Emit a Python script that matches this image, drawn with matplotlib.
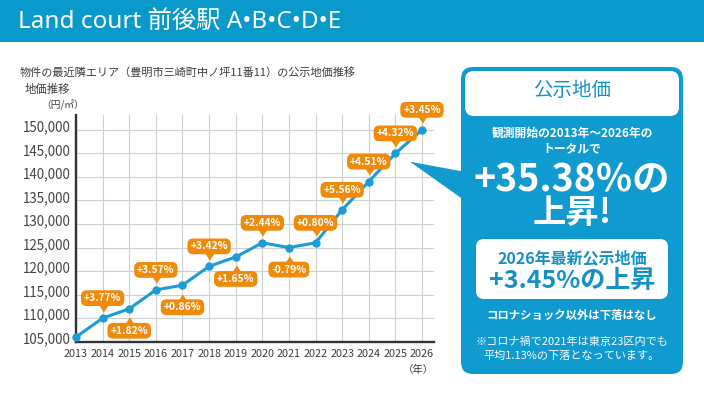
import matplotlib
matplotlib.use('Agg')
import matplotlib.pyplot as plt
from matplotlib.patches import FancyBboxPatch, Rectangle, Polygon
from matplotlib.transforms import offset_copy, ScaledTranslation

plt.rcParams['font.family'] = ['Noto Sans CJK JP', 'DejaVu Sans']

# ---------------- data ----------------
years = [2013, 2014, 2015, 2016, 2017, 2018, 2019, 2020, 2021, 2022, 2023, 2024, 2025, 2026]
prices = [106000, 110000, 112000, 116000, 117000, 121000, 123000, 126000,
          125000, 126000, 133000, 139000, 145000, 150000]
change_labels = ['+3.77%', '+1.82%', '+3.57%', '+0.86%', '+3.42%', '+1.65%', '+2.44%',
                 '-0.79%', '+0.80%', '+5.56%', '+4.51%', '+4.32%', '+3.45%']
label_side = ['above', 'below', 'above', 'below', 'above', 'below', 'above',
              'below', 'above', 'above', 'above', 'above', 'above']
y_ticks = [105000, 110000, 115000, 120000, 125000, 130000, 135000, 140000, 145000, 150000]
y_tick_labels = ['105,000', '110,000', '115,000', '120,000', '125,000', '130,000',
                 '135,000', '140,000', '145,000', '150,000']

title = 'Land court 前後駅 A•B•C•D•E'
subtitle = '物件の最近隣エリア（豊明市三崎町中ノ坪11番11）の公示地価推移'
ylabel1 = '地価推移'
ylabel2 = '（円/㎡）'
xunit = '（年）'
panel_title = '公示地価'
panel_lines = ['観測開始の2013年～2026年の', 'トータルで']
panel_big1 = '+35.38%の'
panel_big2 = '上昇!'
inner_line1 = '2026年最新公示地価'
inner_line2 = '+3.45%の上昇'
note1 = 'コロナショック以外は下落はなし'
note2 = '※コロナ禍で2021年は東京23区内でも'
note3 = '平均1.13%の下落となっています。'

# ---------------- style ----------------
W, H = 704, 396
BLUE = '#0f9ad0'
HEAD = '#0a99cb'
LINE = '#1c9cd4'
ORANGE = '#ef8a0a'
TXT = '#3c3c3c'

fig = plt.figure(figsize=(W / 100, H / 100), dpi=100)
fig.patch.set_facecolor('white')

# chart axes
L, R, T, B = 76, 434, 115, 341.7
ax = fig.add_axes([L / W, 1 - B / H, (R - L) / W, (B - T) / H])
px_per_year = (422 - 76) / 13.0
ax.set_xlim(2013, 2013 + (R - L) / px_per_year)
px_per_5000 = 23.54
ax.set_ylim(105000, 105000 + (B - T) / px_per_5000 * 5000)

ax.set_xticks(years)
ax.set_xticklabels([str(y) for y in years], fontsize=7.8, color=TXT)
ax.set_yticks(y_ticks)
ax.set_yticklabels(y_tick_labels, fontsize=9.6, color='#444444')
ax.tick_params(length=0)
ax.tick_params(axis='y', pad=3.5)
ax.tick_params(axis='x', pad=5)
for lab in ax.get_yticklabels():
    lab.set_transform(lab.get_transform() + ScaledTranslation(0, 4 / 100, fig.dpi_scale_trans))
ax.grid(True, color='#cfcfcf', lw=0.8)
ax.set_axisbelow(True)
for s in ['top', 'right']:
    ax.spines[s].set_visible(False)
for s in ['left', 'bottom']:
    ax.spines[s].set_color('#333333')
    ax.spines[s].set_linewidth(1.7)

ax.plot(years, prices, color=LINE, lw=2.2, marker='o', ms=5, zorder=4, clip_on=False)

# change labels
tri_down = [(-1, 0.75), (1, 0.75), (0, -0.75)]
tri_up = [(-1, -0.75), (1, -0.75), (0, 0.75)]
tr_above = offset_copy(ax.transData, fig=fig, x=0, y=10.5, units='dots')
tr_below = offset_copy(ax.transData, fig=fig, x=0, y=-12.5, units='dots')
for yr, val, lab, side in zip(years[1:], prices[1:], change_labels, label_side):
    if side == 'above':
        ax.plot([yr], [val], marker=tri_down, ms=6.5, color=ORANGE, transform=tr_above,
                clip_on=False, zorder=5)
        off = 20
    else:
        ax.plot([yr], [val], marker=tri_up, ms=6.5, color=ORANGE, transform=tr_below,
                clip_on=False, zorder=5)
        off = -22
    ax.annotate(lab, xy=(yr, val), xytext=(0, off * 0.72), textcoords='offset points',
                ha='center', va='center', fontsize=7.4, fontweight='bold', color='white',
                bbox=dict(boxstyle='round,pad=0.28,rounding_size=0.55', fc=ORANGE, ec='none'),
                zorder=6, annotation_clip=False)

# overlay in pixel coordinates
ov = fig.add_axes([0, 0, 1, 1], zorder=10)
ov.set_xlim(0, W)
ov.set_ylim(H, 0)
ov.axis('off')
ov.patch.set_alpha(0)

# header band
ov.add_patch(Rectangle((0, 0), W, 42, color=HEAD, lw=0))
ov.text(18, 22, title, fontsize=17.5, color='white', va='center', ha='left',
        family=['Noto Sans', 'Noto Sans CJK JP', 'DejaVu Sans'])

ov.text(20, 72, subtitle, fontsize=8.0, color=TXT, va='center', ha='left')
ov.text(25, 89, ylabel1, fontsize=8.2, color=TXT, va='center', ha='left')
ov.text(41, 105, ylabel2, fontsize=7, color=TXT, va='center', ha='left')
ov.text(434, 370, xunit, fontsize=7.5, color=TXT, va='center', ha='right')

# right panel
ov.add_patch(Polygon([(410, 161.7), (464, 171.7), (464, 200)], closed=True, color=BLUE, lw=0))
ov.add_patch(FancyBboxPatch((461 + 12, 67 + 12), 222 - 24, 307 - 24,
                            boxstyle='round,pad=12', fc=BLUE, ec='none'))
ov.add_patch(FancyBboxPatch((465 + 9, 71 + 9), 214 - 18, 36 - 9,
                            boxstyle='round,pad=9', fc='white', ec='none'))
ov.add_patch(Rectangle((465, 92), 214, 15, fc='white', ec='none'))
ov.add_patch(FancyBboxPatch((476 + 8, 239 + 8), 192 - 16, 60 - 16,
                            boxstyle='round,pad=8', fc='white', ec='none'))

cx = 572
ov.text(cx, 91, panel_title, fontsize=14, color='#1590c6', ha='center', va='center')
ov.text(cx, 133, panel_lines[0], fontsize=8.5, color='white', fontweight='bold',
        ha='center', va='center')
ov.text(cx, 148.5, panel_lines[1], fontsize=8.5, color='white', fontweight='bold',
        ha='center', va='center')
ov.text(cx, 180, panel_big1, fontsize=27, color='white', fontweight='bold',
        ha='center', va='center')
ov.text(cx, 213, panel_big2, fontsize=24, color='white', fontweight='bold',
        ha='center', va='center')
ov.text(cx, 258, inner_line1, fontsize=11.5, color='#1590c6', fontweight='bold',
        ha='center', va='center')
ov.text(cx, 280.5, inner_line2, fontsize=18, color='#1590c6', fontweight='bold',
        ha='center', va='center')
ov.text(cx, 315, note1, fontsize=8.2, color='white', fontweight='bold',
        ha='center', va='center')
ov.text(cx, 341.7, note2, fontsize=8, color='white', ha='center', va='center')
ov.text(cx, 356, note3, fontsize=8, color='white', ha='center', va='center')

fig.savefig('out.png', dpi=100, facecolor='white')
